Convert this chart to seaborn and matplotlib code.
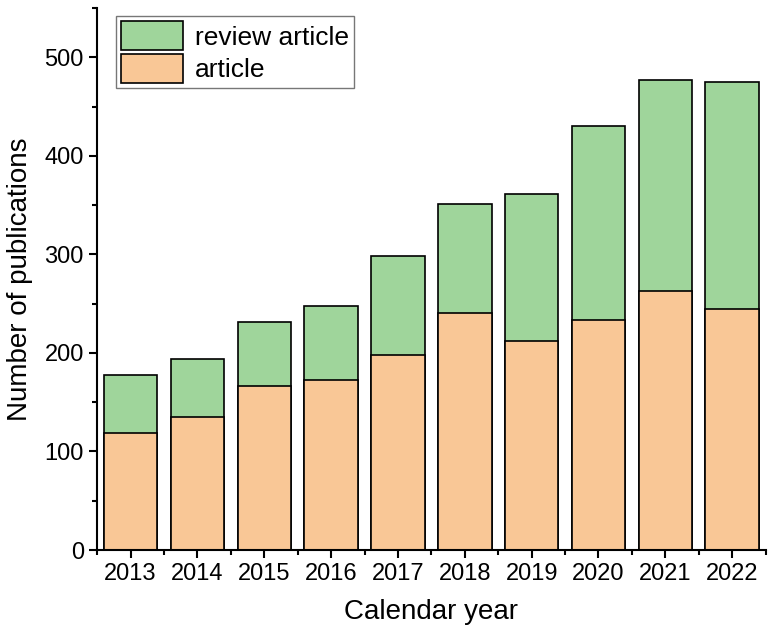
import numpy as np
import pandas as pd
import matplotlib
matplotlib.use('Agg')
import matplotlib.pyplot as plt
from matplotlib.ticker import MultipleLocator
import seaborn as sns

years = ['2013', '2014', '2015', '2016', '2017', '2018', '2019', '2020', '2021', '2022']
article = [119, 135, 166, 173, 198, 240, 212, 233, 263, 245]
total = [178, 194, 231, 248, 298, 351, 361, 430, 477, 475]

df = pd.DataFrame({'year': years, 'article': article, 'total': total})

sns.set_style('ticks', {'axes.edgecolor': 'black', 'text.color': 'black',
                        'axes.labelcolor': 'black', 'xtick.color': 'black',
                        'ytick.color': 'black'})
plt.rcParams['font.family'] = ['Liberation Sans', 'DejaVu Sans']

fig = plt.figure(figsize=(7.71, 6.43), dpi=100)
ax = fig.add_axes([0.126, 0.1446, 0.867, 0.843])

# stacked: total drawn first (green), article over it (orange)
sns.barplot(data=df, x='year', y='total', color='#9fd59b', saturation=1,
            width=0.8, edgecolor='black', linewidth=1.2, ax=ax, label='review article')
sns.barplot(data=df, x='year', y='article', color='#f9c796', saturation=1,
            width=0.8, edgecolor='black', linewidth=1.2, ax=ax, label='article')

ax.set_xlim(-0.5, 9.5)
ax.set_ylim(0, 550)
ax.yaxis.set_major_locator(MultipleLocator(100))
ax.yaxis.set_minor_locator(MultipleLocator(50))
ax.set_xticks(np.arange(-0.5, 10, 1), minor=True)
ax.tick_params(axis='both', which='major', length=6, width=1.5, labelsize=17,
               direction='out', colors='black')
ax.tick_params(axis='both', which='minor', length=3.5, width=1.5, direction='out',
               colors='black')
sns.despine(ax=ax)
for s in ['left', 'bottom']:
    ax.spines[s].set_linewidth(1.5)

ax.set_xlabel('Calendar year', fontsize=20, labelpad=10, color='black')
ax.set_ylabel('Number of publications', fontsize=20, labelpad=8, color='black')

leg = ax.legend(loc='upper left', bbox_to_anchor=(0.028, 0.985), fontsize=19,
                frameon=True, fancybox=False, edgecolor='#555555',
                handlelength=2.35, handleheight=1.3, handletextpad=0.45,
                labelspacing=0.15, borderpad=0.2, borderaxespad=0)
leg.get_frame().set_linewidth(1.0)
for t in leg.get_texts():
    t.set_color('black')

fig.savefig('out.png', dpi=100)
